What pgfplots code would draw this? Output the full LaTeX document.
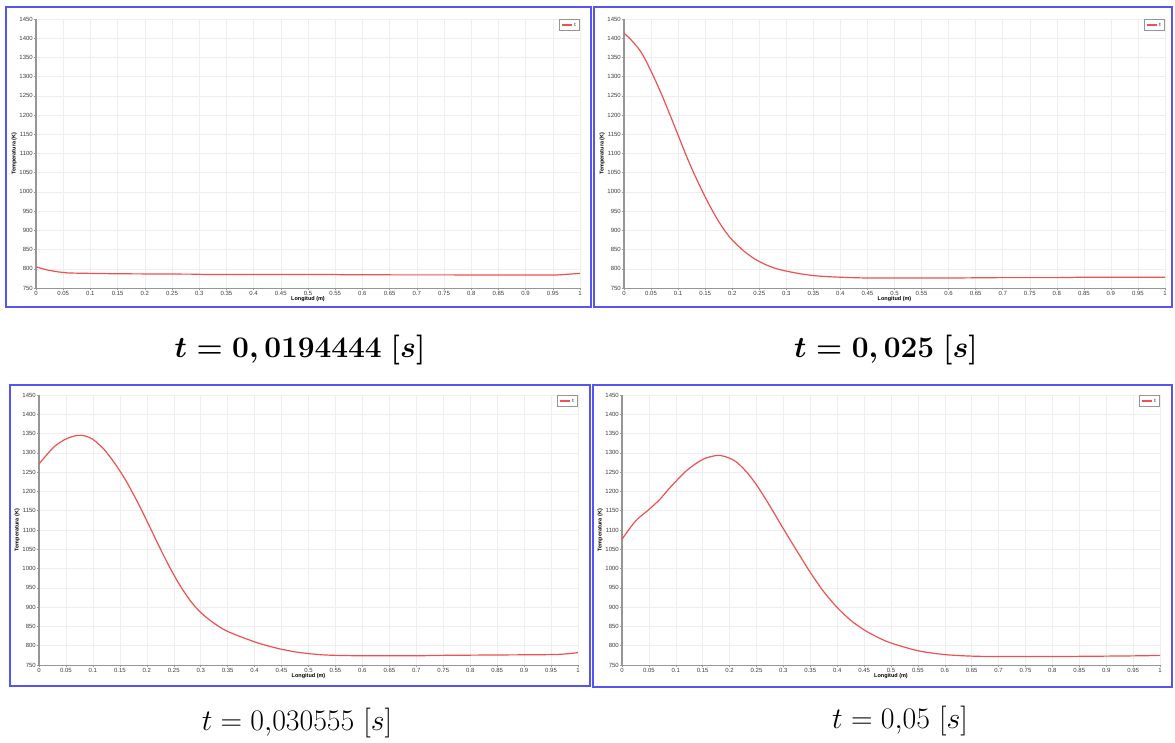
\documentclass[border=0pt]{standalone}
\usepackage{amsmath}
\usepackage{graphicx}
\usepackage[no-math]{fontspec}
\newfontfamily\tickfont{Liberation Sans}
\usepackage{pgfplots}
\pgfplotsset{compat=1.18}
\definecolor{framecol}{RGB}{85,85,245}
\definecolor{curvecol}{RGB}{240,80,80}
\definecolor{axgray}{RGB}{150,150,150}
\definecolor{gridgray}{RGB}{238,238,238}
\definecolor{ticktext}{RGB}{60,60,60}
\pgfplotsset{panel/.style={
  scale only axis, anchor=south west,
  xmin=0, xmax=1, ymin=750, ymax=1450,
  axis x line=bottom, axis y line=left,
  axis line style={-, draw=axgray, line width=0.8pt},
  y axis line style={line width=1.4pt},
  xtick={0,0.05,0.1,0.15,0.2,0.25,0.3,0.35,0.4,0.45,0.5,0.55,0.6,0.65,0.7,0.75,0.8,0.85,0.9,0.95,1},
  xticklabels={0,0.05,0.1,0.15,0.2,0.25,0.3,0.35,0.4,0.45,0.5,0.55,0.6,0.65,0.7,0.75,0.8,0.85,0.9,0.95,1},
  ytick={750,800,850,900,950,1000,1050,1100,1150,1200,1250,1300,1350,1400,1450},
  yticklabels={750,800,850,900,950,1000,1050,1100,1150,1200,1250,1300,1350,1400,1450},
  grid=major, major grid style={draw=gridgray, line width=0.5pt},
  tick style={draw=axgray, line width=0.5pt}, major tick length=2pt, tick align=outside,
  ticklabel style={font=\tickfont\fontsize{6}{6.5}\selectfont, text=ticktext, inner sep=1pt},
  /pgf/number format/assume math mode=true,
  xlabel={Longitud (m)}, ylabel={Temperatura (K)},
  label style={font=\tickfont\bfseries\fontsize{5.5}{6}\selectfont, inner sep=0.5pt},
  xlabel style={yshift=0.5pt},
  ylabel style={yshift=1pt},
  legend style={at={(0.999,0.999)}, anchor=north east, draw=axgray, line width=0.8pt,
    font=\tickfont\fontsize{5}{6}\selectfont, inner sep=1.2pt},
  legend image code/.code={%
    \pgfsetstrokecolor{curvecol}\pgfsetlinewidth{1.5pt}%
    \pgfpathmoveto{\pgfpoint{0pt}{0pt}}\pgfpathlineto{\pgfpoint{10pt}{0pt}}\pgfusepath{stroke}},
}}
\pgfplotsset{redcurve/.style={draw=curvecol, color=curvecol, line width=1.2pt}}
\begin{document}
\begin{tikzpicture}
\useasboundingbox (0,0) rectangle (1175pt,742pt);
\draw[framecol, line width=1.6pt] (6pt,735pt) rectangle (591pt,435pt);
\draw[framecol, line width=1.6pt] (594pt,735pt) rectangle (1172pt,435pt);
\draw[framecol, line width=1.6pt] (10pt,357pt) rectangle (590pt,56pt);
\draw[framecol, line width=1.6pt] (593pt,357pt) rectangle (1172pt,55pt);

\begin{axis}[panel, at={(36pt,454pt)}, width=544pt, height=269pt]
\addplot[redcurve] coordinates {
(0,805) (0.02,797) (0.04,792) (0.06,789) (0.1,788) (0.15,787) (0.29,786) (0.31,785.2) (0.55,785) (0.57,784.3) (0.84,784) (0.96,784) (0.98,786) (1,788)};
\addlegendentry{t}
\end{axis}

\begin{axis}[panel, at={(624pt,454pt)}, width=541pt, height=269pt]
\addplot[redcurve, smooth, tension=0.5] coordinates {
(0,1413) (0.01,1400) (0.02,1385) (0.03,1367) (0.04,1343) (0.05,1314) (0.06,1284) (0.07,1252) (0.08,1218) (0.09,1183) (0.10,1148) (0.11,1112) (0.12,1078) (0.13,1046) (0.14,1016) (0.15,987) (0.16,960) (0.17,935) (0.18,912) (0.19,892) (0.20,875) (0.22,848) (0.24,827) (0.26,812) (0.28,801) (0.30,794) (0.33,786) (0.36,781) (0.40,778) (0.45,776) (0.5,776) (0.6,776) (0.7,777) (0.8,777) (0.85,778) (0.9,778) (1.0,778)};
\addlegendentry{t}
\end{axis}

\begin{axis}[panel, at={(39pt,77pt)}, width=539pt, height=270pt]
\addplot[redcurve, smooth, tension=0.5] coordinates {
(0,1271) (0.015,1296) (0.03,1318) (0.05,1336) (0.07,1345) (0.085,1344) (0.1,1335) (0.12,1310) (0.14,1274) (0.16,1231) (0.18,1180) (0.2,1124) (0.22,1066) (0.24,1010) (0.26,960) (0.28,918) (0.3,886) (0.325,858) (0.35,837) (0.4,810) (0.44,794) (0.48,783) (0.52,777) (0.55,775) (0.6,774) (0.7,774) (0.75,775) (0.85,776) (0.95,777) (0.98,779) (1,782)};
\addlegendentry{t}
\end{axis}

\begin{axis}[panel, at={(622pt,77pt)}, width=538pt, height=270pt]
\addplot[redcurve, smooth, tension=0.5] coordinates {
(0,1076) (0.025,1123) (0.05,1153) (0.07,1179) (0.09,1211) (0.12,1254) (0.15,1283) (0.175,1293) (0.19,1291) (0.21,1279) (0.23,1253) (0.25,1217) (0.275,1162) (0.3,1103) (0.325,1046) (0.35,990) (0.375,940) (0.4,899) (0.425,866) (0.45,841) (0.475,822) (0.5,807) (0.55,787) (0.6,777) (0.65,773) (0.7,772) (0.8,772) (0.9,773) (0.97,774) (1,775)};
\addlegendentry{t}
\end{axis}

\node at (300pt,392pt) {\scalebox{1.2}{\Huge\boldmath $t = 0,0194444\ [s]$}};
\node at (886pt,392pt) {\scalebox{1.2}{\Huge\boldmath $t = 0,025\ [s]$}};
\node at (297pt,19pt) {\scalebox{1.2}{\Huge $t = 0{,}030555\ [s]$}};
\node at (900pt,21pt) {\scalebox{1.2}{\Huge $t = 0{,}05\ [s]$}};
\end{tikzpicture}
\end{document}
